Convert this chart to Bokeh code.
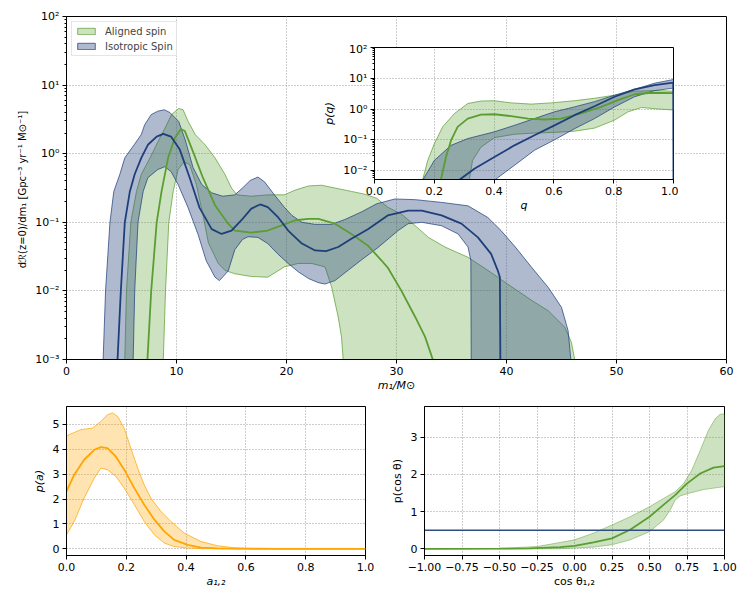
import numpy as np
from bokeh.plotting import figure
from bokeh.layouts import column, row
from bokeh.models import (Range1d, FixedTicker, CustomJSTickFormatter, Legend, LegendItem)
from bokeh.embed import file_html
from bokeh.resources import INLINE

# ---------------- data: primary mass (log10 of dR/dm1) ----------------
iso_up_m = [3.25, 3.33, 3.55, 3.95, 4.3, 4.85, 5.3, 6.15, 6.8, 7.1, 7.7, 8.3, 8.9, 9.4, 10.2, 10.8,
            11.5, 12.3, 13.2, 14.2, 15.3, 16.0, 16.7, 17.4, 18.0, 18.9, 19.8, 20.5, 21.4, 22.6,
            24.1, 25.3, 26.8, 28.2, 29.85, 31.7, 34.1, 36.5, 38.3, 39.5, 40.8, 42.3, 43.8, 45.0,
            45.6, 45.85, 45.9]
iso_up_l = [-3.3, -3.0, -2.0, -1.0, -0.55, -0.3, -0.06, 0.13, 0.28, 0.42, 0.57, 0.62, 0.64, 0.6, 0.47, 0.2,
            -0.2, -0.45, -0.57, -0.62, -0.6, -0.5, -0.39, -0.34, -0.41, -0.6, -0.78, -0.9, -1.0, -1.03,
            -1.03, -0.96, -0.85, -0.73, -0.66, -0.67, -0.71, -0.76, -0.93, -1.12, -1.36, -1.66, -1.95, -2.24,
            -2.58, -3.0, -3.3]
iso_lo_m = [6.0, 6.06, 6.2, 6.5, 6.97, 7.4, 8.3, 8.94, 9.5, 10.15, 11.06, 11.97, 12.7, 13.5, 13.9, 14.7,
            15.3, 16.0, 16.5, 17.4, 18.3, 19.2, 20.15, 21.06, 22.0, 22.9, 23.5, 24.4, 25.6, 26.8, 28.3,
            30.15, 31.06, 32.3, 34.1, 35.6, 36.5, 36.76, 36.8]
iso_lo_l = [-3.3, -3.0, -2.0, -1.0, -0.55, -0.35, -0.23, -0.19, -0.26, -0.45, -0.79, -1.18, -1.56, -1.8, -1.85, -1.71,
            -1.4, -1.25, -1.21, -1.22, -1.31, -1.46, -1.6, -1.72, -1.82, -1.88, -1.9, -1.85, -1.7, -1.55, -1.37,
            -1.12, -1.02, -1.0, -1.05, -1.17, -1.36, -1.56, -3.3]
iso_md_m = [4.6, 4.64, 4.94, 5.3, 5.76, 6.2, 6.8, 7.4, 8.2, 8.8, 9.5, 10.3, 11.2, 12.1, 13.2, 14.1, 15.0,
            15.9, 16.8, 17.6, 18.3, 19.2, 20.15, 21.4, 22.6, 23.6, 24.7, 25.9, 27.4, 29.2, 31.06, 32.3,
            34.1, 35.9, 37.4, 38.6, 39.2, 39.4, 39.45]
iso_md_l = [-3.3, -3.0, -2.0, -1.0, -0.55, -0.3, -0.06, 0.13, 0.25, 0.29, 0.25, 0.06, -0.35, -0.79, -1.1, -1.17, -1.12,
            -0.97, -0.8, -0.74, -0.78, -0.92, -1.12, -1.31, -1.41, -1.42, -1.36, -1.24, -1.1, -0.9, -0.83, -0.83,
            -0.9, -1.02, -1.22, -1.46, -1.7, -1.8, -3.3]

ali_up_m = [5.25, 5.3, 5.45, 5.85, 6.36, 6.8, 7.6, 8.33, 9.1, 9.55, 10.2, 10.6, 11.06, 11.7, 12.6, 13.5,
            14.4, 15.0, 15.5, 16.8, 18.3, 19.8, 20.8, 22.0, 23.2, 24.4, 25.9, 27.1, 28.2, 29.2, 30.45,
            31.7, 32.9, 34.4, 36.5, 38.3, 40.1, 42.3, 43.8, 45.3, 45.9, 46.2, 46.25]
ali_up_l = [-3.3, -3.0, -2.0, -1.0, -0.55, -0.3, -0.06, 0.18, 0.42, 0.57, 0.66, 0.64, 0.47, 0.28, 0.13, -0.06,
            -0.3, -0.5, -0.6, -0.62, -0.6, -0.6, -0.53, -0.47, -0.46, -0.5, -0.55, -0.59, -0.65, -0.78, -0.88,
            -1.05, -1.22, -1.36, -1.51, -1.7, -1.9, -2.14, -2.29, -2.53, -2.75, -3.0, -3.3]
ali_lo_m = [8.75, 8.8, 9.0, 9.3, 9.7, 10.15, 10.7, 11.2, 11.8, 12.4, 12.9, 13.8, 14.4, 15.3, 16.8, 18.3,
            19.8, 21.06, 22.3, 23.5, 24.1, 24.7, 25.0, 25.15, 25.2]
ali_lo_l = [-3.3, -3.0, -2.0, -1.0, -0.55, -0.23, -0.12, -0.16, -0.45, -0.89, -1.3, -1.6, -1.7, -1.75, -1.79, -1.8,
            -1.65, -1.6, -1.6, -1.65, -1.94, -2.38, -2.67, -3.0, -3.3]
ali_md_m = [7.33, 7.36, 7.7, 8.2, 8.64, 9.24, 9.85, 10.4, 10.76, 11.5, 12.4, 13.5, 14.7, 15.3, 16.8, 18.3,
            19.8, 20.8, 22.0, 22.9, 24.4, 25.9, 27.4, 28.6, 29.2, 30.45, 31.7, 32.6, 33.3, 33.4]
ali_md_l = [-3.3, -3.0, -2.0, -1.0, -0.55, -0.06, 0.23, 0.36, 0.33, 0.03, -0.35, -0.75, -1.02, -1.12, -1.15, -1.12,
            -1.03, -0.97, -0.95, -0.95, -1.02, -1.17, -1.34, -1.55, -1.66, -2.0, -2.38, -2.67, -3.0, -3.3]

# ---------------- data: mass ratio inset (log10 p(q)) ----------------
q_ali_up = [0.158, 0.161, 0.178, 0.2, 0.228, 0.267, 0.312, 0.356, 0.401, 0.457, 0.524, 0.591, 0.669,
            0.736, 0.803, 0.87, 0.937, 1.0]
l_ali_up = [-2.6, -2.3, -1.67, -1.13, -0.58, -0.15, 0.18, 0.26, 0.27, 0.2, 0.16, 0.2, 0.27,
            0.35, 0.45, 0.58, 0.6, 0.58]
q_ali_lo = [0.315, 0.317, 0.328, 0.356, 0.401, 0.468, 0.535, 0.6, 0.669, 0.736, 0.803, 0.848, 0.893, 0.949, 1.0]
l_ali_lo = [-2.6, -2.3, -1.67, -1.24, -0.93, -0.82, -0.78, -0.76, -0.72, -0.62, -0.36, -0.09, 0.05, 0.0, -0.03]
q_ali_md = [0.22, 0.222, 0.239, 0.256, 0.278, 0.312, 0.356, 0.401, 0.457, 0.513, 0.569, 0.624, 0.691,
            0.758, 0.814, 0.87, 0.926, 1.0]
l_ali_md = [-2.6, -2.3, -1.56, -1.02, -0.58, -0.31, -0.18, -0.17, -0.23, -0.31, -0.34, -0.31, -0.14,
            0.07, 0.29, 0.48, 0.53, 0.52]
q_iso_up = [0.16, 0.162, 0.2, 0.256, 0.312, 0.401, 0.468, 0.535, 0.602, 0.669, 0.736, 0.803, 0.87, 0.937, 1.0]
l_iso_up = [-2.6, -2.3, -1.67, -1.18, -0.96, -0.74, -0.53, -0.31, -0.09, 0.07, 0.24, 0.45, 0.64, 0.84, 0.96]
q_iso_lo = [0.40, 0.403, 0.468, 0.535, 0.602, 0.669, 0.736, 0.803, 0.87, 0.937, 1.0]
l_iso_lo = [-2.6, -2.3, -1.83, -1.34, -1.0, -0.64, -0.31, 0.07, 0.4, 0.6, 0.68]
q_iso_md = [0.282, 0.284, 0.334, 0.401, 0.468, 0.535, 0.602, 0.669, 0.736, 0.803, 0.87, 0.937, 0.999, 1.0]
l_iso_md = [-2.6, -2.3, -1.94, -1.56, -1.18, -0.85, -0.53, -0.2, 0.09, 0.4, 0.64, 0.78, 0.86, -2.6]

# ---------------- data: spin magnitude ----------------
a_up = [0, 0.048, 0.087, 0.115, 0.137, 0.154, 0.171, 0.193, 0.215, 0.238, 0.26, 0.282, 0.316, 0.349,
        0.394, 0.45, 0.506, 0.561, 0.617, 0.673, 0.8, 1.0]
pa_up = [4.54, 4.79, 4.85, 5.12, 5.39, 5.46, 5.32, 4.85, 4.05, 3.24, 2.57, 2.04, 1.5, 1.1,
         0.63, 0.29, 0.12, 0.04, 0.013, 0.003, 0.0, 0.0]
a_md = [0, 0.026, 0.059, 0.093, 0.115, 0.137, 0.165, 0.193, 0.227, 0.26, 0.294, 0.327, 0.36, 0.405,
        0.45, 0.506, 0.561, 0.7, 1.0]
pa_md = [2.31, 2.98, 3.58, 3.98, 4.09, 4.05, 3.71, 3.18, 2.44, 1.77, 1.17, 0.7, 0.36, 0.16,
         0.05, 0.013, 0.003, 0.0, 0.0]
a_lo = [0, 0.026, 0.059, 0.093, 0.115, 0.137, 0.165, 0.193, 0.227, 0.26, 0.294, 0.327, 0.36, 0.405,
        0.45, 0.6, 1.0]
pa_lo = [0.56, 1.1, 2.04, 2.84, 3.24, 3.18, 2.91, 2.44, 1.77, 1.1, 0.56, 0.23, 0.09, 0.03,
         0.005, 0.0, 0.0]

# ---------------- data: spin tilt ----------------
c_up = [-1, -0.75, -0.5, -0.25, -0.096, 0, 0.127, 0.25, 0.371, 0.5, 0.593, 0.671, 0.727, 0.782,
        0.838, 0.893, 0.938, 0.971, 1.0]
pc_up = [0, 0.002, 0.01, 0.06, 0.17, 0.24, 0.42, 0.64, 0.86, 1.13, 1.35, 1.53, 1.75, 2.11,
         2.64, 3.18, 3.49, 3.61, 3.62]
c_md = [-1, -0.5, -0.3, -0.096, 0, 0.127, 0.25, 0.371, 0.5, 0.593, 0.671, 0.749, 0.838, 0.927, 1.0]
pc_md = [0, 0.002, 0.01, 0.045, 0.08, 0.17, 0.28, 0.51, 0.86, 1.18, 1.44, 1.75, 2.02, 2.18, 2.22]
c_lo = [-1, -0.1, 0.127, 0.25, 0.371, 0.5, 0.593, 0.638, 0.671, 0.704, 0.771, 0.86, 1.0]
pc_lo = [0, 0, 0.045, 0.11, 0.24, 0.46, 0.77, 1.04, 1.31, 1.42, 1.5, 1.59, 1.67]
c_iso = [-1, 1]
pc_iso = [0.5, 0.5]

GREEN = "#5a9e32"
BLUE = "#1f3f7a"
BLUE_FILL = "#2c4a80"
ORANGE = "#ffa500"
FONT = "DejaVu Sans"

LOG_FMT = CustomJSTickFormatter(code="""
const s = {'-':'\u207b','0':'\u2070','1':'\u00b9','2':'\u00b2','3':'\u00b3','4':'\u2074',
           '5':'\u2075','6':'\u2076','7':'\u2077','8':'\u2078','9':'\u2079'};
const e = Math.round(Math.log10(tick));
return '10' + String(e).split('').map(c => s[c]).join('');
""")


def fmt(nd):
    return CustomJSTickFormatter(code="return tick.toFixed(%d).replace('-', '\u2212');" % nd)


def style(p):
    p.frame_align = False
    p.outline_line_color = "black"
    p.outline_line_width = 1
    p.outline_line_alpha = 1
    p.background_fill_color = "white"
    for ax in p.axis:
        ax.axis_line_color = "black"
        ax.major_tick_line_color = "black"
        ax.major_tick_out = 4
        ax.major_tick_in = 0
        ax.minor_tick_out = 2
        ax.minor_tick_in = 0
        ax.major_label_standoff = 3
        ax.major_label_text_font = FONT
        ax.major_label_text_font_size = "11px"
        ax.major_label_text_color = "black"
        ax.axis_label_text_font = FONT
        ax.axis_label_text_font_size = "11px"
        ax.axis_label_text_color = "black"
        ax.axis_label_standoff = 4
    p.xaxis.axis_label_standoff = 1
    for g in (p.xgrid, p.ygrid):
        g.grid_line_color = "#9a9a9a"
        g.grid_line_dash = "1 2"
        g.grid_line_width = 1


def band(xu, yu, xl, yl, log=False):
    xs = np.concatenate([np.array(xu, float), np.array(xl, float)[::-1]])
    ys = np.concatenate([np.array(yu, float), np.array(yl, float)[::-1]])
    if log:
        ys = 10.0 ** ys
    return xs, ys


minor_log = lambda lo, hi: [m * 10.0 ** e for e in range(lo, hi) for m in range(2, 10)]

# ---------------- main figure ----------------
main = figure(frame_width=660, frame_height=343, x_range=Range1d(0, 60),
              y_range=Range1d(1e-3, 1e2), y_axis_type="log",
              min_border_left=66, min_border_right=13, min_border_top=16, min_border_bottom=36,
              output_backend="svg", toolbar_location=None)
style(main)
main.xaxis.ticker = FixedTicker(ticks=[0, 10, 20, 30, 40, 50, 60])
main.xaxis.minor_tick_line_color = None
main.yaxis.ticker = FixedTicker(ticks=[1e-3, 1e-2, 1e-1, 1, 10, 100], minor_ticks=minor_log(-3, 2))
main.yaxis.formatter = LOG_FMT
main.xaxis.axis_label = "m\u2081/M\u2299"
main.xaxis.axis_label_text_font_style = "italic"
main.yaxis.axis_label = "d\u211b(z=0)/dm\u2081  [Gpc\u207b\u00b3 yr\u207b\u00b9 M\u2299\u207b\u00b9]"
main.yaxis.axis_label_text_font_style = "normal"
main.yaxis.axis_label_text_font_size = "10px"

gx, gy = band(ali_up_m, ali_up_l, ali_lo_m, ali_lo_l, log=True)
g_patch = main.patch(gx, gy, fill_color=GREEN, fill_alpha=0.3, line_color=GREEN, line_width=0.8, line_alpha=0.9)
bx, by = band(iso_up_m, iso_up_l, iso_lo_m, iso_lo_l, log=True)
b_patch = main.patch(bx, by, fill_color=BLUE_FILL, fill_alpha=0.38, line_color=BLUE, line_width=0.8, line_alpha=0.9)
main.line(ali_md_m, 10.0 ** np.array(ali_md_l), line_color=GREEN, line_width=1.8)
main.line(iso_md_m, 10.0 ** np.array(iso_md_l), line_color=BLUE, line_width=1.8)

legend = Legend(items=[LegendItem(label="Aligned spin", renderers=[g_patch]),
                       LegendItem(label="Isotropic Spin", renderers=[b_patch])],
                location="top_left", margin=5, padding=3, spacing=3,
                glyph_width=22, glyph_height=8, label_height=12, label_standoff=8,
                label_text_font=FONT, label_text_font_size="10px",
                border_line_color="#cccccc", border_line_width=1,
                background_fill_alpha=0.85)
main.add_layout(legend)

# ---------------- inset (overlaid on the main figure by negative margin) ----------------
inset = figure(frame_width=299, frame_height=132, x_range=Range1d(0, 1),
               y_range=Range1d(10 ** -2.29, 1e2), y_axis_type="log",
               min_border_left=50, min_border_right=5, min_border_top=5, min_border_bottom=40,
               output_backend="svg", toolbar_location=None)
style(inset)
inset.border_fill_alpha = 0
inset.margin = (-353, 0, 179, 320)
inset.xaxis.ticker = FixedTicker(ticks=[0, 0.2, 0.4, 0.6, 0.8, 1.0])
inset.xaxis.formatter = fmt(1)
inset.xaxis.minor_tick_line_color = None
inset.yaxis.ticker = FixedTicker(ticks=[1e-2, 1e-1, 1, 10, 100], minor_ticks=minor_log(-3, 2))
inset.yaxis.formatter = LOG_FMT
inset.xaxis.axis_label = "q"
inset.xaxis.axis_label_text_font_style = "italic"
inset.yaxis.axis_label = "p(q)"
inset.yaxis.axis_label_text_font_style = "italic"
ix, iy = band(q_ali_up, l_ali_up, q_ali_lo, l_ali_lo, log=True)
inset.patch(ix, iy, fill_color=GREEN, fill_alpha=0.3, line_color=GREEN, line_width=0.8, line_alpha=0.9)
ix, iy = band(q_iso_up, l_iso_up, q_iso_lo, l_iso_lo, log=True)
inset.patch(ix, iy, fill_color=BLUE_FILL, fill_alpha=0.38, line_color=BLUE, line_width=0.8, line_alpha=0.9)
inset.line(q_ali_md, 10.0 ** np.array(l_ali_md), line_color=GREEN, line_width=1.8)
inset.line(q_iso_md, 10.0 ** np.array(l_iso_md), line_color=BLUE, line_width=1.8)

# ---------------- spin magnitude ----------------
bl = figure(frame_width=299, frame_height=149, x_range=Range1d(0, 1), y_range=Range1d(-0.27, 5.72),
            min_border_left=66, min_border_right=10, min_border_top=8, min_border_bottom=35,
            output_backend="svg", toolbar_location=None)
style(bl)
bl.xaxis.ticker = FixedTicker(ticks=[0, 0.2, 0.4, 0.6, 0.8, 1.0])
bl.xaxis.formatter = fmt(1)
bl.yaxis.ticker = FixedTicker(ticks=[0, 1, 2, 3, 4, 5])
bl.yaxis.formatter = fmt(0)
for ax in bl.axis:
    ax.minor_tick_line_color = None
bl.xaxis.axis_label = "a\u2081,\u2082"
bl.xaxis.axis_label_text_font_style = "italic"
bl.yaxis.axis_label = "p(a)"
bl.yaxis.axis_label_text_font_style = "italic"
sx, sy = band(a_up, pa_up, a_lo, pa_lo)
bl.patch(sx, sy, fill_color=ORANGE, fill_alpha=0.3, line_color=ORANGE, line_width=0.8, line_alpha=0.9)
bl.line(a_md, pa_md, line_color=ORANGE, line_width=1.8)

# ---------------- spin tilt ----------------
br = figure(frame_width=300, frame_height=149, x_range=Range1d(-1, 1), y_range=Range1d(-0.18, 3.82),
            min_border_left=49, min_border_right=15, min_border_top=8, min_border_bottom=35,
            output_backend="svg", toolbar_location=None)
style(br)
br.xaxis.ticker = FixedTicker(ticks=[-1, -0.75, -0.5, -0.25, 0, 0.25, 0.5, 0.75, 1.0])
br.xaxis.formatter = fmt(2)
br.yaxis.ticker = FixedTicker(ticks=[0, 1, 2, 3])
br.yaxis.formatter = fmt(0)
for ax in br.axis:
    ax.minor_tick_line_color = None
br.xaxis.axis_label = "cos \u03b8\u2081,\u2082"
br.xaxis.axis_label_text_font_style = "normal"
br.yaxis.axis_label = "p(cos \u03b8)"
br.yaxis.axis_label_text_font_style = "normal"
tx, ty = band(c_up, pc_up, c_lo, pc_lo)
br.patch(tx, ty, fill_color=GREEN, fill_alpha=0.3, line_color=GREEN, line_width=0.8, line_alpha=0.6)
br.line(c_md, pc_md, line_color=GREEN, line_width=1.8)
br.line(c_iso, pc_iso, line_color="#2e4e82", line_width=1.5)

layout = column(main, inset, row(bl, br, spacing=0), spacing=0)

open("out.html", "w").write(file_html(layout, INLINE))
